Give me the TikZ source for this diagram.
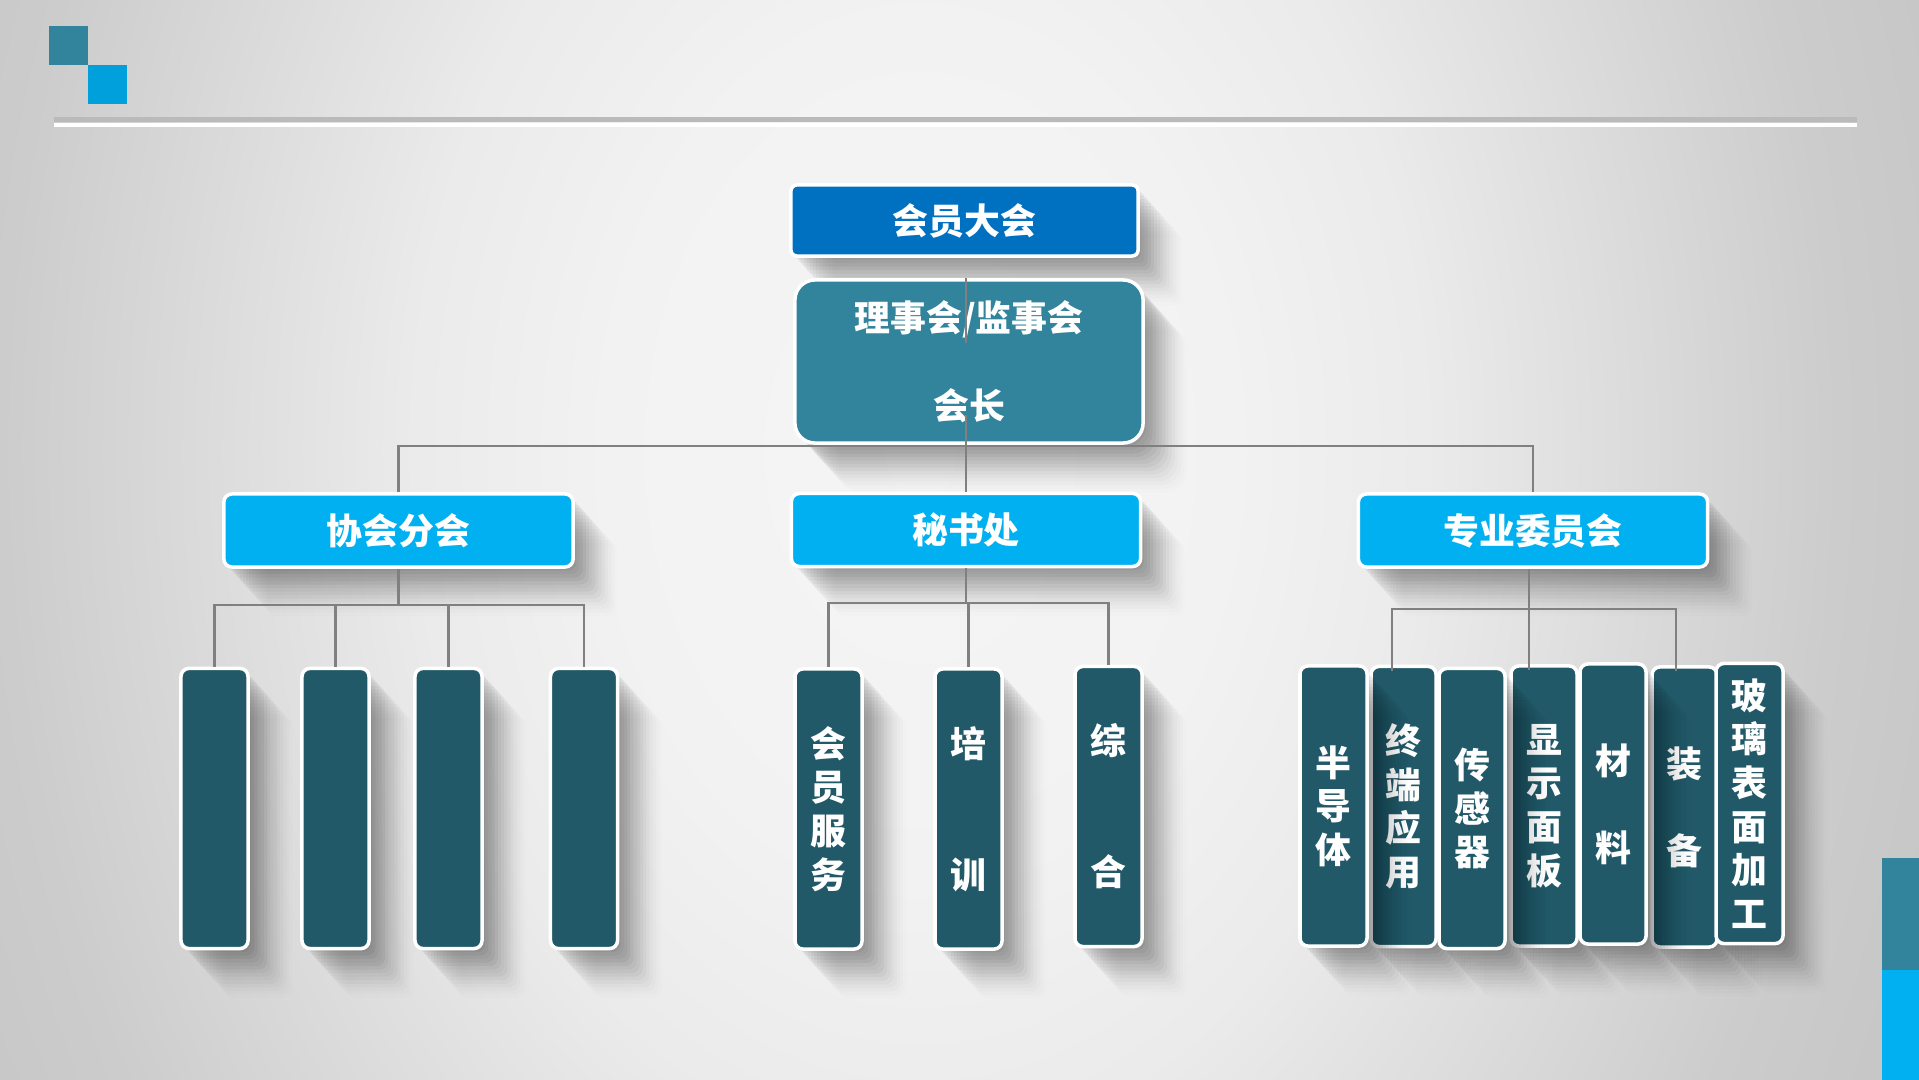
\documentclass[tikz,border=0pt]{standalone}
\usepackage{fontspec}
\newfontfamily\cjk{Noto Sans CJK SC}
\usetikzlibrary{shadows}
\definecolor{deepblue}{HTML}{0070C0}
\definecolor{seablue}{HTML}{31849B}
\definecolor{skyblue}{HTML}{00B0F0}
\definecolor{markblue}{HTML}{00A0DC}
\definecolor{barteal}{HTML}{215968}
\pgfdeclareradialshading{slide}{\pgfpoint{0bp}{0bp}}{color(0bp)=(white!96!black); color(7.5bp)=(white!95!black); color(12.5bp)=(white!92!black); color(17.5bp)=(white!86!black); color(22.5bp)=(white!80!black); color(27.5bp)=(white!77!black); color(40bp)=(white!75!black)}

\begin{document}
\begin{tikzpicture}[x=0.01cm, y=-0.01cm,
	every node/.style={font=\cjk\bfseries\fontsize{10.2}{12.4}\selectfont, text=white, align=center, inner sep=0pt},
	softshadow/.style={
		drop shadow={shadow xshift=0.9pt, shadow yshift=-1pt, opacity=.045, fill=black},
		drop shadow={shadow xshift=1.8pt, shadow yshift=-2pt, opacity=.045, fill=black},
		drop shadow={shadow xshift=2.7pt, shadow yshift=-3pt, opacity=.045, fill=black},
		drop shadow={shadow xshift=3.6pt, shadow yshift=-4pt, opacity=.045, fill=black},
		drop shadow={shadow xshift=4.5pt, shadow yshift=-5pt, opacity=.042, fill=black},
		drop shadow={shadow xshift=5.4pt, shadow yshift=-6pt, opacity=.04, fill=black},
		drop shadow={shadow xshift=6.3pt, shadow yshift=-7pt, opacity=.036, fill=black},
		drop shadow={shadow xshift=7.2pt, shadow yshift=-8pt, opacity=.032, fill=black},
		drop shadow={shadow xshift=8.1pt, shadow yshift=-9pt, opacity=.028, fill=black},
		drop shadow={shadow xshift=9pt, shadow yshift=-10pt, opacity=.024, fill=black},
		drop shadow={shadow xshift=9.9pt, shadow yshift=-11pt, opacity=.02, fill=black},
		drop shadow={shadow xshift=10.8pt, shadow yshift=-12pt, opacity=.016, fill=black},
		drop shadow={shadow xshift=11.7pt, shadow yshift=-13pt, opacity=.012, fill=black},
		drop shadow={shadow xshift=12.6pt, shadow yshift=-14pt, opacity=.009, fill=black}},
	topbox/.style={fill=deepblue, draw=white, line width=1pt, rounded corners=0.06cm, minimum width=3.47cm, minimum height=0.71cm, softshadow},
	boardbox/.style={fill=seablue, draw=white, line width=1pt, rounded corners=0.2cm, minimum width=3.48cm, minimum height=1.63cm, softshadow},
	midbox/.style={fill=skyblue, draw=white, line width=1pt, rounded corners=0.08cm, minimum width=3.49cm, minimum height=0.73cm, softshadow},
	bar/.style={fill=barteal, draw=white, line width=1pt, rounded corners=0.08cm, minimum width=0.67cm, minimum height=2.8cm, softshadow},
	link/.style={draw=gray, line width=0.8pt}]
	\useasboundingbox (0,0) rectangle (1919,1080);
	\begin{scope}
		\clip (0,0) rectangle (1919,1080);
		\shade[shading=slide] (-100,-950) rectangle (1940,1850);
	\end{scope}
	% page decoration
	\fill[seablue] (49,26) rectangle (88,65);
	\fill[markblue] (88,65) rectangle (127,104);
	\fill[black!27] (54,117) rectangle (1857,122.5);
	\fill[white] (54,123.5) rectangle (1857,127);
	\fill[seablue] (1882,858) rectangle (1919,970);
	\fill[skyblue] (1882,970) rectangle (1919,1080);

	% top levels
	\node[topbox] (assembly) at (964.5,220.5) {会员大会};
	\node[boardbox] (board) at (969,361.5) {理事会/监事会\\[12.6pt]会长};
	\node[midbox] (branch) at (398.5,530.5) {协会分会};
	\node[midbox] (office) at (966,530) {秘书处};
	\node[midbox] (committee) at (1533,530.5) {专业委员会};

	\coordinate (hub) at (office.north |- 0,446);
	\draw[link] (office.north |- board.north) -- (office.north |- 0,343);
	\draw[link] (office.north |- 0,415) -- (office.north);
	\draw[link] (branch.north) |- (hub) -| (committee.north);

	\coordinate (bbus) at (branch.south |- 0,605);
	\coordinate (obus) at (office.south |- 0,603);
	\coordinate (cbus) at (1529,609);
	\draw[link] (branch.south) -- (bbus);
	\draw[link] (office.south) -- (obus);
	\draw[link] (cbus |- committee.south) -- (cbus);

	% branch bars
	\node[bar] (b1) at (214.5,808.5) {};
	\node[bar] (b2) at (335.5,808.5) {};
	\node[bar] (b3) at (448.5,808.5) {};
	\node[bar] (b4) at (584,808.5) {};
	\foreach \i in {1,...,4}
		\draw[link] (bbus) -| (b\i.north);

	% office bars
	\node[bar] (s1) at (828.5,809) {会\\员\\服\\务};
	\node[bar] (s2) at (968.5,809) {培\\~\\~\\训};
	\node[bar] (s3) at (1108.5,806.5) {综\\~\\~\\合};
	\foreach \i in {1,2,3}
		\draw[link] (obus) -| (s\i.north);

	% committee bars
	\node[bar, minimum width=0.65cm] (c2) at (1403.5,806.5) {终\\端\\应\\用};
	\node[bar, minimum width=0.66cm] (c4) at (1544,806) {显\\示\\面\\板};
	\node[bar, minimum width=0.65cm] (c6) at (1684.5,807) {装\\~\\备};
	\node[bar, minimum width=0.67cm] (c1) at (1333.5,806) {半\\导\\体};
	\node[bar, minimum width=0.66cm] (c3) at (1472,808.5) {传\\感\\器};
	\node[bar, minimum width=0.66cm] (c5) at (1613,804) {材\\~\\料};
	\node[bar, minimum width=0.67cm] (c7) at (1749.5,803.5) {玻\\璃\\表\\面\\加\\工};
	\draw[link] (cbus) -| ([xshift=-0.115cm, yshift=-0.06cm]c2.north);
	\draw[link] (cbus) -| ([xshift=-0.15cm, yshift=-0.06cm]c4.north);
	\draw[link] (cbus) -| ([xshift=-0.085cm, yshift=-0.06cm]c6.north);
\end{tikzpicture}
\end{document}
